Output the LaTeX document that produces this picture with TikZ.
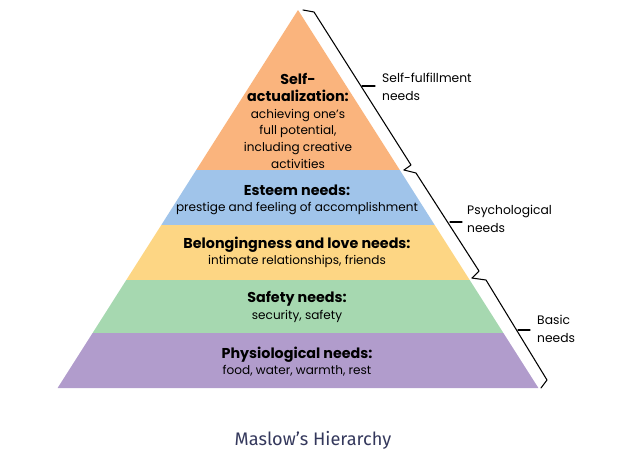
\documentclass[tikz,border=0pt]{standalone}
\usepackage{fontspec}
\setmainfont{Poppins}
\newfontfamily\capfont{Fira Sans}

\definecolor{selfcol}{RGB}{250,180,125}
\definecolor{esteemcol}{RGB}{160,196,234}
\definecolor{belongcol}{RGB}{253,214,132}
\definecolor{safecol}{RGB}{166,216,176}
\definecolor{physcol}{RGB}{177,156,204}
\definecolor{capcol}{RGB}{52,56,92}

\newcommand\needhead[1]{{\fontsize{12.2}{14.5}\selectfont\bfseries #1}}

\begin{document}
\begin{tikzpicture}[
		x=0.3mm, y=-0.3mm,
		need/.style={align=center, inner sep=0pt, font=\fontsize{10.3}{14.2}\selectfont},
		group/.style={anchor=west, align=left, inner sep=0pt, font=\fontsize{10.5}{15.4}\selectfont},
		bracket/.style={black, line width=0.9pt, line join=round, line cap=round}
		]
		\useasboundingbox (0,0) rectangle (619,456);
		
		% ---- ступени ----
		\fill[selfcol]   (298,10)   -- (399.8,170) -- (196.2,170) -- cycle;
		\fill[esteemcol] (196.2,170) -- (399.8,170) -- (434.7,225) -- (161.3,225) -- cycle;
		\fill[belongcol] (161.3,225) -- (434.7,225) -- (469.7,280) -- (126.3,280) -- cycle;
		\fill[safecol]   (126.3,280) -- (469.7,280) -- (503.4,333) -- (92.6,333) -- cycle;
		\fill[physcol]   (92.6,333)  -- (503.4,333) -- (538.4,388) -- (57.6,388) -- cycle;
		
		% ---- подписи ----
		\node[need] (selfact) at (298,121) {\needhead{Self-}\\\needhead{actualization:}\\achieving one’s\\full potential,\\including creative\\activities};
		\node[need] (esteem) at (297,200) {\needhead{Esteem needs:}\\prestige and feeling of accomplishment};
		\node[need] (belong) at (297,252.5) {\needhead{Belongingness and love needs:}\\intimate relationships, friends};
		\node[need] (safety) at (297,307) {\needhead{Safety needs:}\\security, safety};
		\node[need] (physio) at (297,361.5) {\needhead{Physiological needs:}\\food, water, warmth, rest};
		
		\node[group] (fulfil) at (382,86.5) {Self-fulfillment\\needs};
		\node[group] (psych) at (467,219) {Psychological\\needs};
		\node[group] (basic) at (537,328.5) {Basic\\needs};
		
		% ---- скобки ----
		\draw[bracket] (303,10) -- (314,12) -- (411,165) -- (404,170);
		\draw[bracket] (362,86) -- (375,86);
		\draw[bracket] (404,170) -- (416,173) -- (479,271) -- (472,278);
		\draw[bracket] (450,222) -- (462,222);
		\draw[bracket] (472,278) -- (486,280) -- (547,380) -- (541,388);
		\draw[bracket] (518,330) -- (530,330);
		
		\node[font=\capfont\fontsize{15.5}{18}\selectfont, text=capcol] (title) at (313,440) {Maslow’s Hierarchy};
	\end{tikzpicture}
\end{document}
